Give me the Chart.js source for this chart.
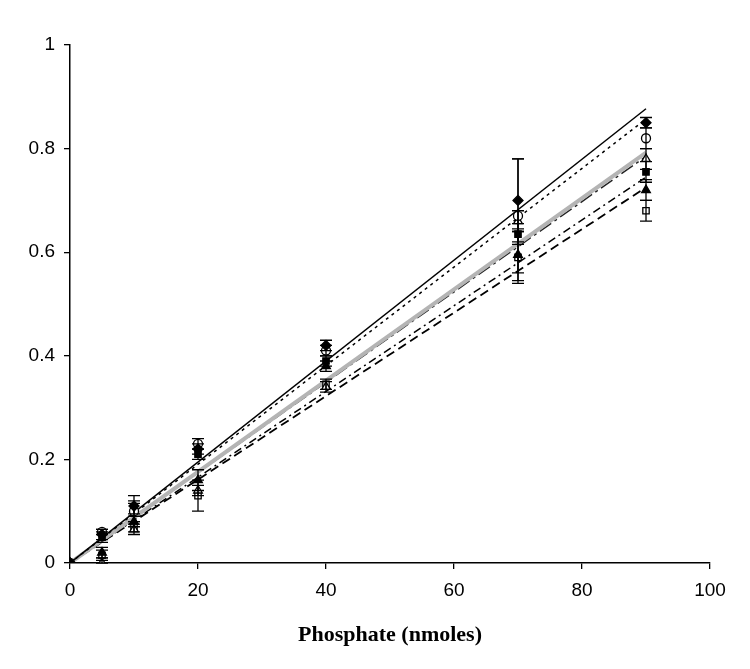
<!DOCTYPE html>
<html>
<head>
<meta charset="utf-8">
<script src="https://cdn.jsdelivr.net/npm/chart.js@4/dist/chart.umd.min.js"></script>
<style>
  html, body { margin: 0; padding: 0; background: #fff; }
  #wrap { width: 750px; height: 669px; }
</style>
</head>
<body>
<div id="wrap"><canvas id="phosChart" width="750" height="669"></canvas></div>
<script>
// phosphate amounts (nmoles)
const xVals = [0, 5, 10, 20, 40, 70, 90];

// absorbance per series
const diamondFilled = [0, 0.055, 0.11, 0.22, 0.42, 0.70, 0.85];
const circleOpen    = [0, 0.06, 0.10, 0.23, 0.41, 0.67, 0.82];
const triOpen       = [0, 0.00, 0.065, 0.14, 0.34, 0.66, 0.78];
const squareFilled  = [0, 0.05, 0.105, 0.21, 0.39, 0.635, 0.755];
const triFilled     = [0, 0.02, 0.08, 0.16, 0.38, 0.595, 0.72];
const squareOpen    = [0, 0.015, 0.07, 0.13, 0.345, 0.59, 0.68];

// error bar half widths
const diamondErr = [0, 0.01, 0.02, 0.01, 0.01, 0.08, 0.01];
const circleErr  = [0, 0.005, 0.02, 0.01, 0.01, 0.11, 0.02];
const triOpenErr = [0, 0.01, 0.01, 0.01, 0.01, 0.02, 0.02];
const squareErr  = [0, 0.01, 0.01, 0.01, 0.01, 0.02, 0.02];
const triErr     = [0, 0.01, 0.01, 0.02, 0.01, 0.05, 0.02];
const sqOpenErr  = [0, 0.01, 0.01, 0.03, 0.01, 0.05, 0.02];

// trend lines: value at x = 0 and x = 90
const lineX = [0, 90];
const solidLine    = [0, 0.877];
const dottedLine   = [0, 0.857];
const greyLine     = [0, 0.792];
const longDashLine = [0, 0.785];
const dashDotLine  = [0, 0.745];
const dashedLine   = [0, 0.725];

const xTicks = [0, 20, 40, 60, 80, 100];
const yTicks = [0, 0.2, 0.4, 0.6, 0.8, 1];

function pts(xs, ys) {
  return xs.map((x, i) => ({ x, y: ys[i] }));
}

function markerSet(ys, err, style, filled, radius) {
  return {
    data: pts(xVals, ys),
    err,
    showLine: false,
    pointStyle: style,
    pointRadius: radius || 4.5,
    pointBorderWidth: 1.3,
    pointBorderColor: "#000",
    pointBackgroundColor: filled ? "#000" : "#fff"
  };
}

function lineSet(ys, color, width, dash) {
  return {
    data: pts(lineX, ys),
    showLine: true,
    pointRadius: 0,
    borderColor: color,
    borderWidth: width,
    borderDash: dash,
    fill: false
  };
}

// draws vertical error bars with caps
const errorBars = {
  id: "errorBars",
  afterDatasetsDraw(chart) {
    const ctx = chart.ctx;
    const xs = chart.scales.x, ys = chart.scales.y;
    ctx.save();
    ctx.strokeStyle = "#000";
    ctx.lineWidth = 1.3;
    chart.data.datasets.forEach(ds => {
      if (!ds.err) return;
      ds.data.forEach((p, i) => {
        const e = ds.err[i];
        if (!e) return;
        const px = xs.getPixelForValue(p.x);
        const top = ys.getPixelForValue(p.y + e);
        const bot = ys.getPixelForValue(Math.max(0, p.y - e));
        ctx.beginPath();
        ctx.moveTo(px, top); ctx.lineTo(px, bot);
        ctx.moveTo(px - 6, top); ctx.lineTo(px + 6, top);
        ctx.moveTo(px - 6, bot); ctx.lineTo(px + 6, bot);
        ctx.stroke();
      });
    });
    ctx.restore();
  }
};

new Chart(document.getElementById("phosChart"), {
  type: "scatter",
  data: {
    datasets: [
      markerSet(diamondFilled, diamondErr, "rectRot", true, 5),
      markerSet(circleOpen, circleErr, "circle", false),
      markerSet(triOpen, triOpenErr, "triangle", false, 5),
      markerSet(squareFilled, squareErr, "rect", true),
      markerSet(triFilled, triErr, "triangle", true, 5),
      markerSet(squareOpen, sqOpenErr, "rect", false),
      lineSet(solidLine, "#000", 1.5, []),
      lineSet(dottedLine, "#000", 1.5, [3, 4]),
      lineSet(greyLine, "#b4b4b4", 4, []),
      lineSet(longDashLine, "#222", 1.5, [14, 4, 3, 4]),
      lineSet(dashDotLine, "#000", 1.5, [8, 4, 2, 4]),
      lineSet(dashedLine, "#000", 1.8, [9, 5])
    ]
  },
  plugins: [errorBars],
  options: {
    responsive: false,
    animation: false,
    layout: { padding: { left: 0, right: 40, top: 45, bottom: 16 } },
    plugins: {
      legend: { display: false },
      tooltip: { enabled: false }
    },
    scales: {
      x: {
        type: "linear",
        min: 0,
        max: 100,
        afterBuildTicks: axis => { axis.ticks = xTicks.map(v => ({ value: v })); },
        afterFit: axis => { axis.height = 90; },
        grid: { display: true, drawOnChartArea: false, drawTicks: true, tickLength: 6, color: "#000", lineWidth: 1.3 },
        border: { color: "#000", width: 1.5 },
        ticks: { color: "#000", padding: 10, font: { family: "Liberation Sans, Arial", size: 19 } },
        title: {
          display: true,
          text: "Phosphate (nmoles)",
          color: "#000",
          font: { family: "Liberation Serif, Times New Roman", size: 22, weight: "bold" },
          padding: { top: 4, bottom: 4 }
        }
      },
      y: {
        type: "linear",
        min: 0,
        max: 1,
        afterBuildTicks: axis => { axis.ticks = yTicks.map(v => ({ value: v })); },
        afterFit: axis => { axis.width = 70; },
        grid: { display: true, drawOnChartArea: false, drawTicks: true, tickLength: 6, color: "#000", lineWidth: 1.3 },
        border: { color: "#000", width: 1.5 },
        ticks: {
          color: "#000",
          padding: 9,
          font: { family: "Liberation Sans, Arial", size: 19 },
          callback: v => String(Math.round(v * 10) / 10)
        }
      }
    }
  }
});
</script>
</body>
</html>
